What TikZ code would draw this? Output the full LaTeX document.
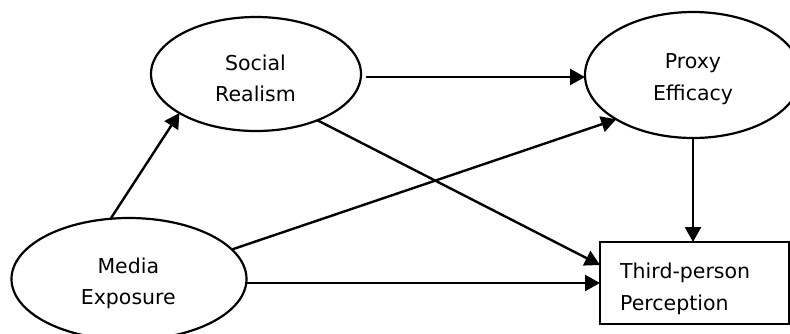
\documentclass[tikz,border=0pt]{standalone}
\usepackage{fontspec}
\setmainfont{DejaVu Sans}
\usetikzlibrary{arrows.meta,shapes.geometric}
\begin{document}
\begin{tikzpicture}[x=1pt,y=-1pt,
  shapeline/.style={draw=black,line width=2.2pt,inner sep=0pt,outer sep=0pt},
  oval/.style={shapeline,ellipse},
  rbox/.style={shapeline,rectangle},
  lbl/.style={inner sep=0pt,font=\fontsize{20.5}{31.5}\selectfont,anchor=base},
  arr/.style={line width=2.4pt,-{Triangle[length=15pt,width=16pt]}}]
\clip (0,0) rectangle (790,333);
\fill[white] (0,0) rectangle (790,333);
% shapes
\node[oval,minimum width=210pt,minimum height=114pt] (soc) at (256,74) {};
\node[oval,minimum width=216pt,minimum height=126pt] (prx) at (693,75) {};
\node[oval,minimum width=235pt,minimum height=122pt] (me) at (129,279) {};
\node[rbox,minimum width=189pt,minimum height=82pt] (tpp) at (694.5,283) {};
% labels (base anchor = last line)
\node[lbl,align=center] (socT) at (255.5,101.7) {Social\\Realism};
\node[lbl,align=center] (prxT) at (693,100) {Proxy\\Efficacy};
\node[lbl,align=center] (meT) at (128.3,304.5) {Media\\Exposure};
\node[lbl,align=left,anchor=base west] (tppT) at (620,310) {Third-person\\Perception};
% connectors
\draw[arr] (me.107) -- (soc.207);
\draw[arr] ([shift={(5,3)}]soc.east) -- ([yshift=-2pt]prx.west);
\draw[arr] (soc.-37) -- ([yshift=18pt]tpp.west);
\draw[arr] (me.16) -- (prx.210);
\draw[arr] (me.east |- tpp.west) -- (tpp.west);
\draw[arr] (prx.south) -- (prx.south |- tpp.north);
\end{tikzpicture}
\end{document}
